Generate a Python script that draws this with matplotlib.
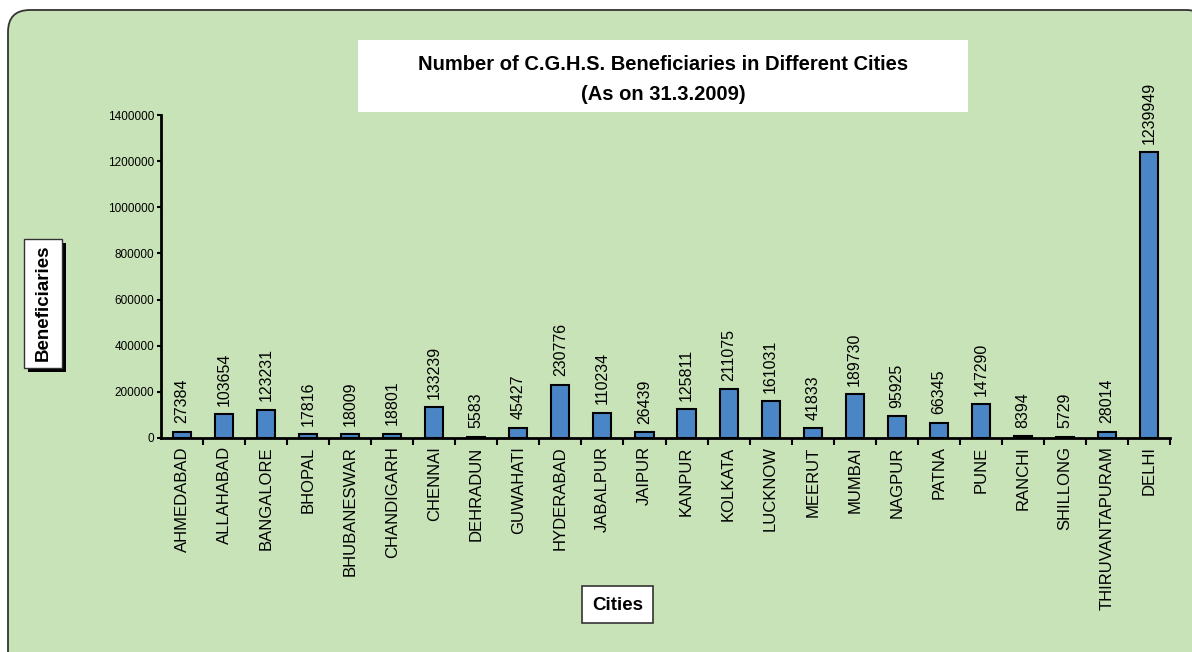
import matplotlib
matplotlib.use("Agg")
import matplotlib.pyplot as plt
from matplotlib.patches import FancyBboxPatch, Rectangle

# data
cities = ["AHMEDABAD", "ALLAHABAD", "BANGALORE", "BHOPAL", "BHUBANESWAR",
          "CHANDIGARH", "CHENNAI", "DEHRADUN", "GUWAHATI", "HYDERABAD",
          "JABALPUR", "JAIPUR", "KANPUR", "KOLKATA", "LUCKNOW", "MEERUT",
          "MUMBAI", "NAGPUR", "PATNA", "PUNE", "RANCHI", "SHILLONG",
          "THIRUVANTAPURAM", "DELHI"]
beneficiaries = [27384, 103654, 123231, 17816, 18009, 18801, 133239, 5583,
                 45427, 230776, 110234, 26439, 125811, 211075, 161031, 41833,
                 189730, 95925, 66345, 147290, 8394, 5729, 28014, 1239949]
y_ticks = [0, 200000, 400000, 600000, 800000, 1000000, 1200000, 1400000]

title = "Number of C.G.H.S. Beneficiaries in Different Cities"
subtitle = "(As on 31.3.2009)"

GREEN = "#c9e3b8"
BLUE = "#4a86c6"
SANS = ["Liberation Sans", "DejaVu Sans"]

W, H = 1192, 652
fig = plt.figure(figsize=(W / 100, H / 100), dpi=100)
fig.patch.set_facecolor("white")

# background layer in pixel coordinates
bg = fig.add_axes([0, 0, 1, 1], zorder=0)
bg.set_xlim(0, W)
bg.set_ylim(H, 0)
bg.axis("off")
bg.add_patch(FancyBboxPatch((8, 10), 1200, 665,
                            boxstyle="round,pad=0,rounding_size=22",
                            facecolor=GREEN, edgecolor="#333333", lw=1.3))

# title box
bg.add_patch(Rectangle((358, 40), 610, 72, facecolor="white", edgecolor="none"))
bg.text(663, 64, title, ha="center", va="center", fontsize=14.5,
        fontweight="bold", family=SANS)
bg.text(663, 95, subtitle, ha="center", va="center", fontsize=14.5,
        fontweight="bold", family=SANS)

# y label box with shadow
bg.add_patch(Rectangle((28, 243), 38, 129, facecolor="black", edgecolor="none"))
bg.add_patch(Rectangle((24, 239), 38, 129, facecolor="white",
                       edgecolor="#333333", lw=1))
bg.text(43, 303, "Beneficiaries", rotation=90, ha="center", va="center",
        fontsize=13.5, fontweight="bold", family=SANS)

# x label box
bg.add_patch(Rectangle((582, 586), 71, 37, facecolor="white",
                       edgecolor="#333333", lw=1.2))
bg.text(617.5, 605, "Cities", ha="center", va="center", fontsize=13.5,
        fontweight="bold", family=SANS)

# main chart
ax = fig.add_axes([161 / W, 1 - 438 / H, (1170 - 161) / W, (438 - 115) / H],
                  zorder=1)
ax.set_facecolor("none")
x = list(range(len(cities)))
bars = ax.bar(x, beneficiaries, width=0.43, color=BLUE, edgecolor="black",
              linewidth=1.5)
for xi, v in zip(x, beneficiaries):
    ax.annotate(str(v), (xi, v), xytext=(0, 6), textcoords="offset points",
                rotation=90, ha="center", va="bottom", fontsize=11.5,
                family=SANS, annotation_clip=False)

ax.set_xlim(-0.5, len(cities) - 0.5)
ax.set_ylim(0, 1400000)
ax.set_yticks(y_ticks)
ax.set_yticklabels([str(t) for t in y_ticks], family=SANS, fontsize=8.5)
ax.tick_params(axis="y", length=3, width=1.5, pad=2)

ax.set_xticks(x)
ax.set_xticklabels(cities, rotation=90, family=SANS, fontsize=12, va="top")
ax.tick_params(axis="x", which="major", length=0, pad=6)
ax.set_xticks([i + 0.5 for i in x], minor=True)
ax.tick_params(axis="x", which="minor", length=5, width=1.5, direction="out")

for s in ["top", "right"]:
    ax.spines[s].set_visible(False)
for s in ["left", "bottom"]:
    ax.spines[s].set_linewidth(2)

fig.savefig("out.png", dpi=100)
